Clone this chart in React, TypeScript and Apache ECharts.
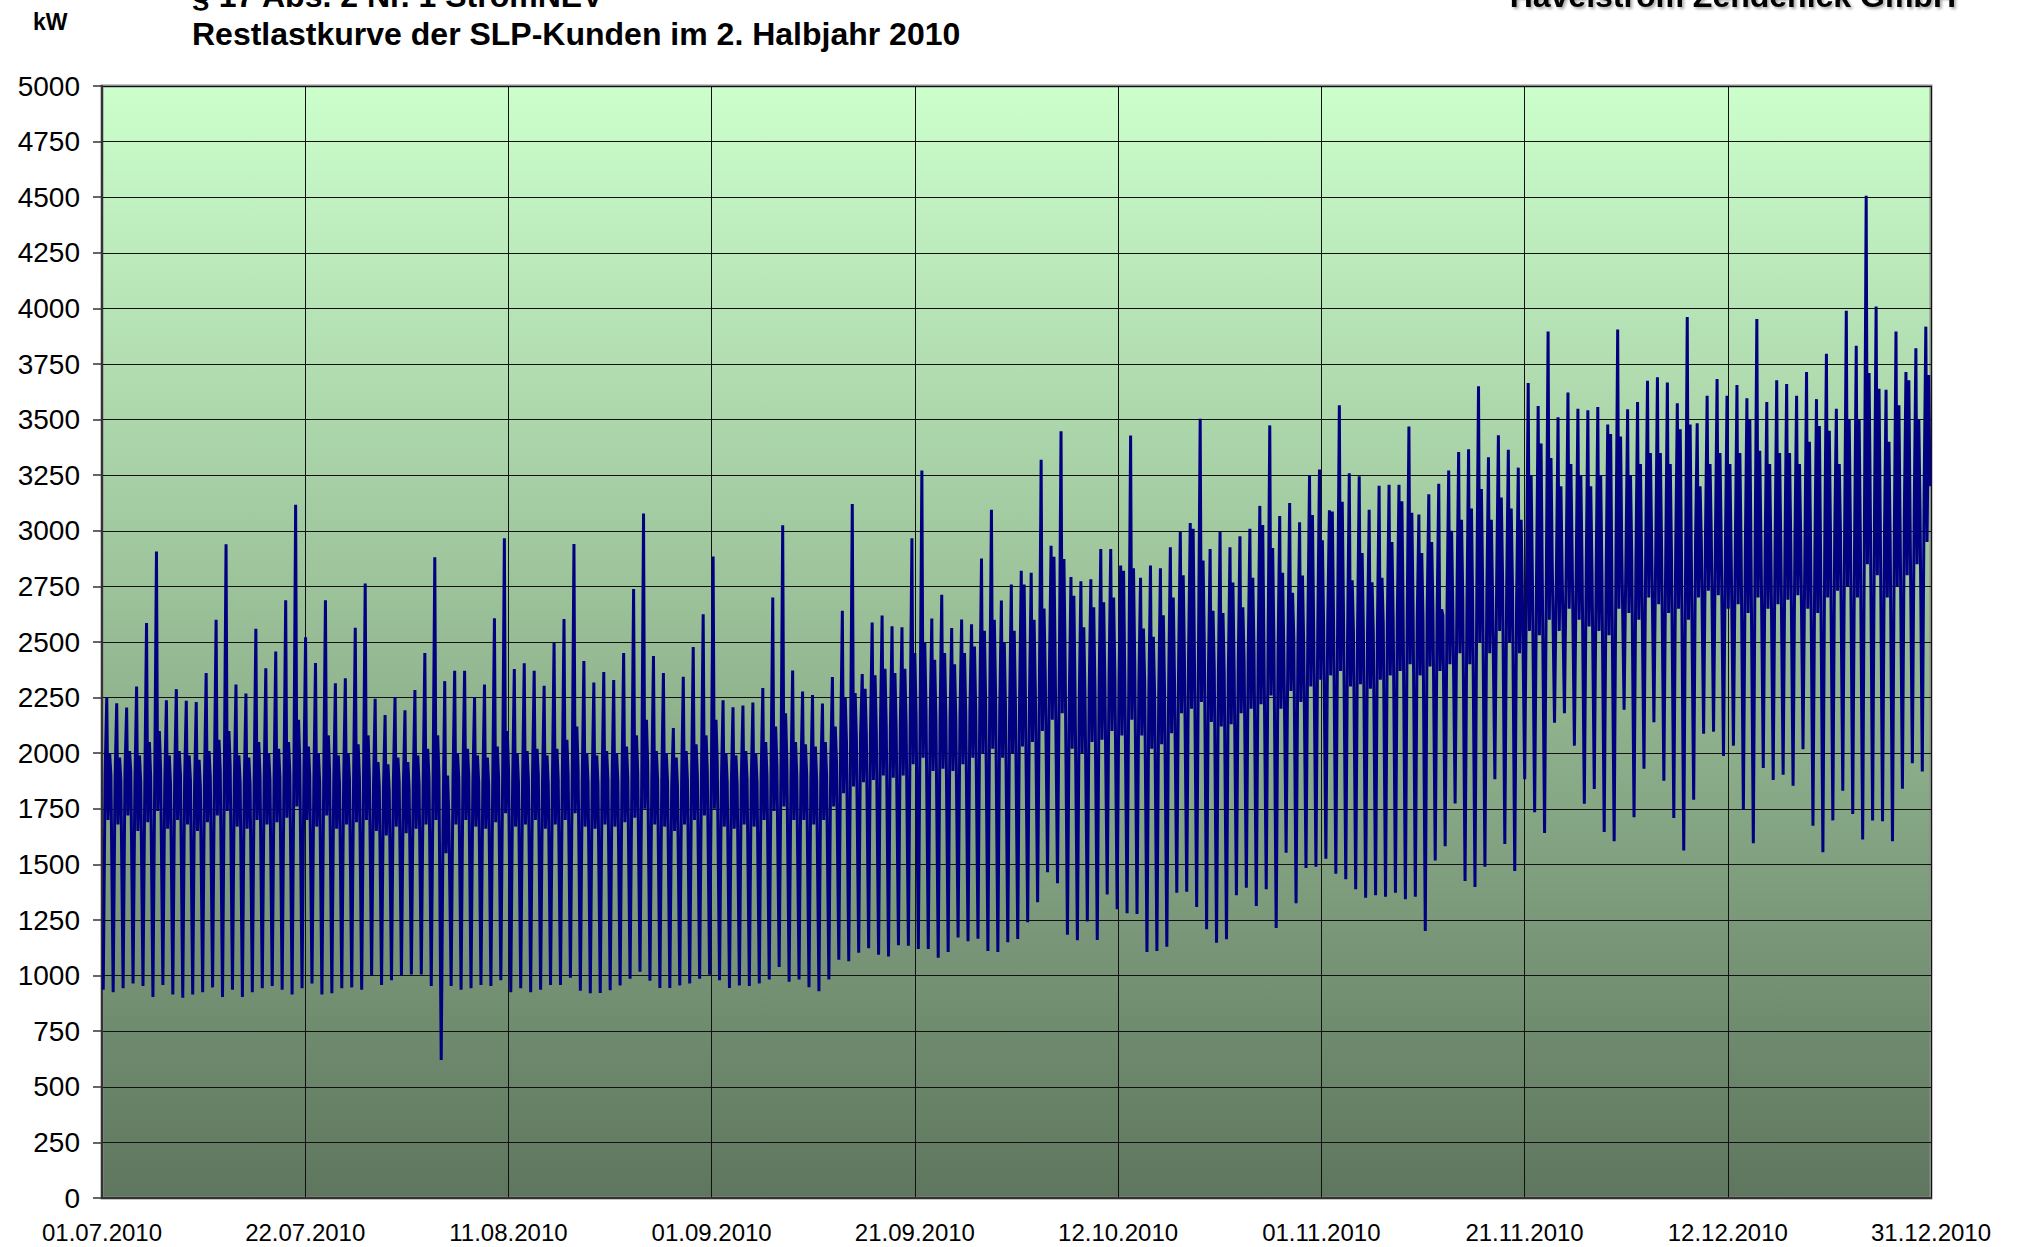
import React, { useEffect, useRef } from "react";
import * as echarts from "echarts";

const xLabels = ["01.07.2010", "22.07.2010", "11.08.2010", "01.09.2010", "21.09.2010", "12.10.2010", "01.11.2010", "21.11.2010", "12.12.2010", "31.12.2010"];

// daily night minimum (kW), 01.07.2010 .. 31.12.2010
const dayMin = [
  936, 925, 943, 964, 953, 904, 958, 915, 900, 915,
  925, 947, 904, 936, 904, 925, 943, 953, 936, 915,
  943, 964, 915, 921, 943, 947, 936, 1000, 958, 979,
  1000, 1005, 1005, 953, 620, 953, 936, 943, 958, 953,
  979, 925, 943, 925, 936, 958, 958, 990, 932, 921,
  922, 934, 956, 986, 1017, 977, 944, 944, 956, 965,
  986, 1004, 979, 944, 956, 953, 965, 982, 1039, 972,
  982, 948, 930, 982, 1071, 1065, 1103, 1123, 1094, 1086,
  1137, 1134, 1120, 1120, 1080, 1106, 1171, 1154, 1166, 1111,
  1106, 1150, 1165, 1240, 1330, 1465, 1415, 1184, 1159, 1243,
  1160, 1365, 1298, 1280, 1277, 1106, 1111, 1130, 1373, 1377,
  1308, 1208, 1148, 1163, 1361, 1395, 1313, 1388, 1214, 1552,
  1325, 1484, 1490, 1525, 1458, 1433, 1388, 1350, 1361, 1355,
  1373, 1343, 1355, 1201, 1518, 1582, 1774, 1425, 1398, 1489,
  1883, 1592, 1470, 1883, 1734, 1641, 2137, 2180, 2034, 1773,
  1839, 1646, 1604, 2195, 1712, 1930, 2139, 1876, 1709, 1562,
  1791, 2087, 2097, 1988, 2034, 1746, 1595, 1933, 1880, 1903,
  1854, 2018, 1674, 1555, 1698, 1831, 1727, 1612, 1697, 1694,
  1604, 1840, 1955, 1918,
];

// daytime shoulder level (kW)
const dayMid = [
  1900, 1880, 1920, 1870, 1890, 1930, 1860, 1900, 1880, 1850,
  1890, 1920, 1940, 1870, 1860, 1900, 1880, 1890, 1910, 1960,
  1900, 1870, 1920, 1860, 1880, 1890, 1900, 1850, 1830, 1870,
  1840, 1860, 1880, 1900, 1700, 1880, 1900, 1870, 1860, 1890,
  1930, 1870, 1880, 1900, 1860, 1880, 1900, 1930, 1870, 1860,
  1880, 1870, 1890, 1910, 1950, 1880, 1870, 1850, 1880, 1900,
  1920, 1950, 1870, 1860, 1880, 1870, 1900, 1940, 1960, 1900,
  1900, 1880, 1900, 1960, 2050, 2060, 2080, 2100, 2120, 2110,
  2130, 2180, 2200, 2150, 2160, 2150, 2170, 2200, 2230, 2260,
  2200, 2220, 2260, 2280, 2350, 2380, 2400, 2250, 2240, 2280,
  2300, 2350, 2330, 2400, 2320, 2260, 2280, 2330, 2420, 2450,
  2480, 2380, 2360, 2370, 2420, 2450, 2460, 2500, 2450, 2520,
  2480, 2560, 2580, 2600, 2620, 2550, 2560, 2540, 2580, 2600,
  2620, 2650, 2600, 2640, 2620, 2650, 2700, 2650, 2750, 2700,
  2800, 2750, 2700, 2800, 2780, 2850, 2800, 2900, 2850, 2820,
  2800, 2780, 2900, 2880, 2850, 2950, 2920, 2880, 2900, 2850,
  2950, 2980, 2960, 2900, 2920, 2880, 2950, 2900, 2920, 2940,
  2960, 2900, 2880, 2950, 2980, 3000, 2950, 3100, 3050, 2950,
  3000, 3050, 3100, 3200,
];

// afternoon trough (kW)
const dayDip = [
  1700, 1680, 1720, 1650, 1690, 1740, 1660, 1700, 1680, 1650,
  1690, 1720, 1740, 1670, 1660, 1700, 1680, 1690, 1710, 1760,
  1700, 1670, 1720, 1660, 1680, 1690, 1700, 1650, 1630, 1670,
  1640, 1660, 1680, 1700, 1550, 1680, 1700, 1670, 1660, 1690,
  1730, 1670, 1680, 1700, 1660, 1680, 1700, 1730, 1670, 1660,
  1680, 1670, 1690, 1710, 1750, 1680, 1670, 1650, 1680, 1700,
  1720, 1750, 1670, 1660, 1680, 1670, 1700, 1740, 1760, 1700,
  1700, 1680, 1700, 1760, 1820, 1850, 1870, 1880, 1900, 1890,
  1900, 1950, 1980, 1920, 1930, 1920, 1950, 1980, 2000, 2020,
  1980, 2000, 2030, 2050, 2100, 2150, 2180, 2020, 2000, 2050,
  2060, 2100, 2080, 2150, 2080, 2020, 2040, 2090, 2180, 2200,
  2230, 2140, 2120, 2130, 2180, 2200, 2220, 2260, 2200, 2280,
  2230, 2300, 2330, 2350, 2370, 2300, 2310, 2290, 2330, 2350,
  2370, 2400, 2350, 2390, 2370, 2400, 2450, 2400, 2500, 2450,
  2550, 2500, 2450, 2550, 2530, 2600, 2550, 2650, 2600, 2570,
  2550, 2530, 2650, 2630, 2600, 2700, 2670, 2630, 2650, 2600,
  2700, 2730, 2710, 2650, 2670, 2630, 2700, 2650, 2670, 2690,
  2710, 2650, 2630, 2700, 2730, 2750, 2700, 2850, 2800, 2700,
  2750, 2800, 2850, 2950,
];

// daily peak (kW)
const dayMax = [
  2250, 2225, 2205, 2300, 2585, 2907, 2238, 2288, 2236, 2230,
  2360, 2600, 2939, 2309, 2268, 2560, 2382, 2457, 2688, 3117,
  2521, 2406, 2688, 2314, 2337, 2564, 2763, 2245, 2172, 2253,
  2193, 2284, 2451, 2881, 2324, 2371, 2371, 2253, 2309, 2607,
  2967, 2378, 2404, 2371, 2303, 2496, 2603, 2941, 2415, 2318,
  2365, 2329, 2451, 2738, 3078, 2437, 2360, 2113, 2344, 2477,
  2625, 2884, 2238, 2207, 2214, 2228, 2293, 2700, 3025, 2372,
  2277, 2262, 2223, 2343, 2640, 3121, 2356, 2588, 2619, 2571,
  2566, 2967, 3271, 2606, 2712, 2563, 2601, 2580, 2875, 3095,
  2687, 2759, 2820, 2811, 3319, 2933, 3448, 2792, 2773, 2782,
  2918, 2918, 2844, 3428, 2789, 2844, 2832, 2926, 2995, 3035,
  3504, 2918, 2995, 2926, 2975, 3009, 3112, 3474, 3066, 3125,
  3038, 3250, 3276, 3092, 3564, 3259, 3245, 3095, 3202, 3207,
  3207, 3469, 3073, 3164, 3211, 3271, 3354, 3367, 3650, 3331,
  3430, 3364, 3284, 3665, 3561, 3896, 3510, 3622, 3549, 3542,
  3557, 3478, 3905, 3546, 3579, 3675, 3690, 3667, 3574, 3961,
  3484, 3607, 3682, 3607, 3656, 3596, 3952, 3579, 3677, 3660,
  3607, 3714, 3592, 3796, 3549, 3989, 3832, 4506, 4008, 3634,
  3896, 3714, 3821, 3918,
];

// evening peak (kW)
const dayEve = [
  2000, 1980, 2010, 1990, 2050, 2100, 1990, 2010, 1990, 1970,
  2010, 2060, 2100, 1990, 1980, 2050, 2000, 2020, 2050, 2150,
  2030, 2000, 2080, 1990, 2000, 2040, 2080, 1960, 1950, 1980,
  1960, 1990, 2020, 2080, 1900, 2000, 2020, 1990, 1980, 2030,
  2100, 2000, 2010, 2020, 1990, 2020, 2060, 2120, 2000, 1990,
  2010, 2000, 2030, 2080, 2150, 2010, 2000, 1980, 2010, 2040,
  2080, 2150, 2000, 1990, 2010, 2000, 2050, 2120, 2180, 2050,
  2040, 2030, 2050, 2120, 2250, 2270, 2290, 2350, 2380, 2360,
  2380, 2450, 2500, 2420, 2450, 2400, 2450, 2480, 2550, 2600,
  2500, 2550, 2759, 2600, 2650, 2883, 2873, 2708, 2566, 2656,
  2679, 2700, 2820, 2832, 2561, 2523, 2620, 2700, 2800, 3009,
  2866, 2640, 2630, 2768, 2656, 2789, 3026, 2923, 2811, 2721,
  2799, 3071, 2957, 3087, 3130, 2777, 2900, 2768, 2789, 2950,
  3133, 3081, 2900, 2950, 2647, 3000, 3050, 3100, 3188, 3050,
  3150, 3100, 3050, 3250, 3392, 3327, 3200, 3300, 3250, 3200,
  3250, 3435, 3424, 3250, 3300, 3350, 3350, 3300, 3456, 3478,
  3200, 3300, 3350, 3300, 3350, 3499, 3360, 3300, 3350, 3350,
  3300, 3400, 3471, 3450, 3300, 3500, 3500, 3710, 3639, 3400,
  3564, 3677, 3500, 3700,
];

// hour of day at which each daily reading sits
const dayProfile: [number, string][] = [
  [3, "min"],
  [7.5, "mid"],
  [11.5, "max"],
  [14.5, "dip"],
  [18.5, "eve"],
  [21.5, "mid"],
];

const MIN_PER_DAY = 1440;
const TOTAL_MIN = dayMin.length * MIN_PER_DAY;
const X_STEP = TOTAL_MIN / (xLabels.length - 1);

function buildData(): number[][] {
  const out: number[][] = [];
  const src: Record<string, number[]> = { min: dayMin, mid: dayMid, max: dayMax, eve: dayEve, dip: dayDip };
  for (let d = 0; d < dayMin.length; d++) {
    for (const [h, k] of dayProfile) {
      out.push([d * MIN_PER_DAY + h * 60, src[k][d]]);
    }
  }
  return out;
}

export default function App() {
  const ref = useRef<HTMLDivElement>(null);
  useEffect(() => {
    if (!ref.current) return;
    const chart = echarts.init(ref.current, null, { renderer: "svg" });
    const font = '"Liberation Sans", Arial, sans-serif';
    chart.setOption({
      animation: false,
      grid: {
        left: 102,
        top: 86,
        width: 1829,
        height: 1112,
        show: true,
        backgroundColor: new echarts.graphic.LinearGradient(0, 0, 0, 1, [
          { offset: 0, color: "#CCFFCC" },
          { offset: 0.5, color: "#97BC95" },
          { offset: 1, color: "#5E765E" },
        ]),
        borderColor: "#8a8a8a",
        borderWidth: 3,
      },
      xAxis: {
        type: "value",
        min: 0,
        max: TOTAL_MIN,
        interval: X_STEP,
        axisLine: { show: true, onZero: false, lineStyle: { color: "#333", width: 2 } },
        axisTick: { show: false },
        axisLabel: {
          show: true,
          margin: 22,
          color: "#000",
          fontSize: 24,
          fontFamily: font,
          showMinLabel: true,
          showMaxLabel: true,
          formatter: (v: number) => xLabels[Math.round(v / X_STEP)] ?? "",
        },
        splitLine: { show: true, lineStyle: { color: "#111", width: 1 } },
      },
      yAxis: {
        type: "value",
        min: 0,
        max: 5000,
        interval: 250,
        axisLine: { show: true, onZero: false, lineStyle: { color: "#333", width: 2 } },
        axisTick: { show: true, length: 9, lineStyle: { color: "#333", width: 1.5 } },
        axisLabel: {
          margin: 22,
          color: "#000",
          fontSize: 28,
          fontFamily: font,
          formatter: (v: number) => String(v),
        },
        splitLine: { show: true, lineStyle: { color: "#111", width: 1 } },
      },
      series: [
        {
          type: "line",
          data: buildData(),
          symbol: "none",
          showSymbol: false,
          silent: true,
          lineStyle: { color: "#000080", width: 3 },
          z: 3,
        },
      ],
      graphic: [
        {
          type: "text",
          x: 33,
          y: 22,
          style: { text: "kW", font: `bold 23px ${font}`, fill: "#000", textVerticalAlign: "middle" },
        },
        {
          type: "text",
          x: 192,
          y: -4,
          style: { text: "§ 17 Abs. 2 Nr. 1 StromNEV", font: `bold 32px ${font}`, fill: "#000", textVerticalAlign: "middle" },
        },
        {
          type: "text",
          x: 192,
          y: 34,
          style: { text: "Restlastkurve der SLP-Kunden im 2. Halbjahr 2010", font: `bold 32px ${font}`, fill: "#000", textVerticalAlign: "middle" },
        },
        {
          type: "text",
          x: 1956,
          y: -4,
          style: {
            text: "Havelstrom Zehdenick GmbH",
            font: `bold 32px ${font}`,
            fill: "#000",
            textAlign: "right",
            textVerticalAlign: "middle",
            textShadowColor: "rgba(0,0,0,0.35)",
            textShadowBlur: 3,
            textShadowOffsetX: 2,
            textShadowOffsetY: 2,
          },
        },
      ],
    });
    return () => chart.dispose();
  }, []);
  return (
    <div
      ref={ref}
      style={{ position: "absolute", left: 0, top: 0, width: 2018, height: 1247, background: "#fff" }}
    />
  );
}
